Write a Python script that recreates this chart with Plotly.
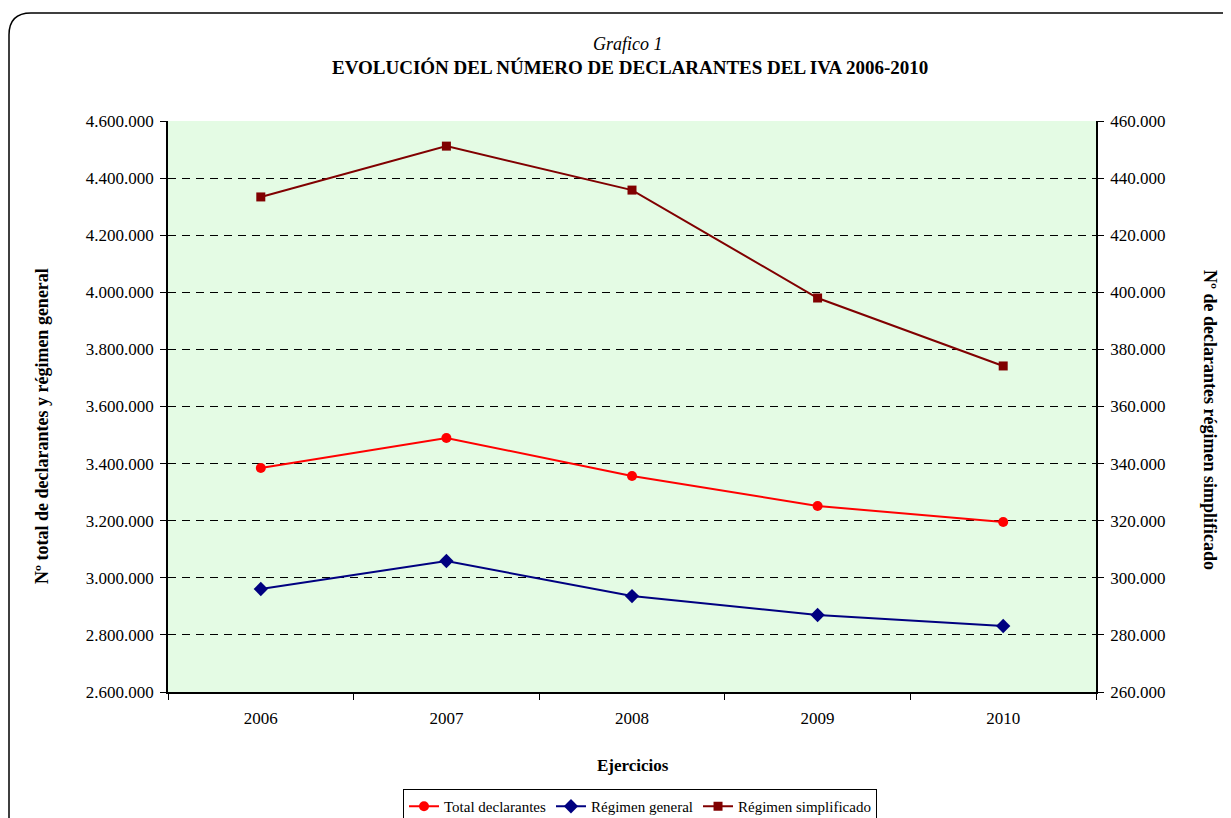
import plotly.graph_objects as go

years = ["2006", "2007", "2008", "2009", "2010"]
total_declarantes = [3384600, 3489700, 3356600, 3251500, 3195400]
regimen_general = [2960800, 3058800, 2936000, 2869700, 2831200]
regimen_simplificado = [433400, 451200, 435800, 398000, 374200]

OFF = 8  # default page body margin
W, H = 1231 - OFF, 818 - OFF
# plot area in screen pixels
SL, SR, ST, SB = 168, 1096, 121, 692
L, R, T, B = SL - OFF, SR - OFF, ST - OFF, SB - OFF


def px(x):  # screen x -> paper
    return (x - SL) / (SR - SL)


def py(y):  # screen y -> paper
    return (SB - y) / (SB - ST)


FONT = "Liberation Serif"

fig = go.Figure()
fig.add_trace(go.Scatter(
    x=years, y=total_declarantes, name="Total declarantes", mode="lines+markers",
    line=dict(color="#FF0000", width=2),
    marker=dict(symbol="circle", size=10, color="#FF0000"),
))
fig.add_trace(go.Scatter(
    x=years, y=regimen_general, name="Régimen general", mode="lines+markers",
    line=dict(color="#000080", width=2),
    marker=dict(symbol="diamond", size=11, color="#000080"),
))
fig.add_trace(go.Scatter(
    x=years, y=regimen_simplificado, name="Régimen simplificado", mode="lines+markers",
    line=dict(color="#800000", width=2),
    marker=dict(symbol="square", size=9, color="#800000"),
    yaxis="y2",
))

# rounded outer frame
x0, x1 = px(9), px(1250)
y0, y1 = py(13), py(840)
rx, ry = 22 / (SR - SL), 22 / (SB - ST)
path = (f"M {x0},{y1} L {x0},{y0 - ry} Q {x0},{y0} {x0 + rx},{y0} "
        f"L {x1 - rx},{y0} Q {x1},{y0} {x1},{y0 - ry} L {x1},{y1}")

tickfont = dict(family=FONT, size=17, color="#000000")

fig.update_layout(
    width=W, height=H,
    margin=dict(l=L, r=W - R, t=T, b=H - B, autoexpand=False),
    paper_bgcolor="white",
    plot_bgcolor="#e4fbe4",
    separators=",.",
    font=dict(family=FONT, size=15, color="#000000"),
    showlegend=True,
    legend=dict(
        orientation="h", x=px(640), xanchor="center", y=py(789), yanchor="top",
        bordercolor="#000000", borderwidth=1, bgcolor="white",
        font=dict(family=FONT, size=15), tracegroupgap=0,
    ),
    xaxis=dict(
        type="category", range=[-0.5, 4.5], tickson="boundaries",
        ticks="outside", ticklen=6, tickcolor="#000000",
        showline=True, linecolor="#000000", linewidth=1.5,
        showgrid=False, ticklabelstandoff=10,
        tickfont=tickfont,
    ),
    yaxis=dict(
        range=[2600000, 4600000], dtick=200000, tickformat=",d",
        ticks="outside", ticklen=6, tickcolor="#000000",
        showline=True, linecolor="#000000", linewidth=1.5,
        showgrid=True, gridcolor="#000000", griddash="8px,6px", gridwidth=1,
        zeroline=False, ticklabelstandoff=3,
        tickfont=tickfont,
    ),
    yaxis2=dict(
        range=[260000, 460000], dtick=20000, tickformat=",d",
        overlaying="y", side="right",
        ticks="outside", ticklen=6, tickcolor="#000000",
        showline=True, linecolor="#000000", linewidth=1.5,
        showgrid=False, zeroline=False, ticklabelstandoff=3,
        tickfont=tickfont,
    ),
    shapes=[dict(type="path", xref="paper", yref="paper", path=path,
                 line=dict(color="#000000", width=1.5))],
    annotations=[
        dict(text="<i>Grafico 1</i>", x=px(628), y=py(32), xref="paper", yref="paper",
             showarrow=False, font=dict(family=FONT, size=18)),
        dict(text="<b>EVOLUCIÓN DEL NÚMERO DE DECLARANTES DEL IVA 2006-2010</b>",
             x=px(630), y=py(55), xref="paper", yref="paper",
             showarrow=False, font=dict(family=FONT, size=19)),
        dict(text="<b>Ejercicios</b>", x=px(633), y=py(777), xref="paper", yref="paper",
             showarrow=False, font=dict(family=FONT, size=17)),
        dict(text="<b>Nº total de declarantes y régimen general</b>", textangle=-90,
             x=px(30), y=py(426), xref="paper", yref="paper",
             showarrow=False, font=dict(family=FONT, size=18)),
        dict(text="<b>Nº de declarantes régimen simplificado</b>", textangle=90,
             x=px(1222), y=py(420), xref="paper", yref="paper",
             showarrow=False, font=dict(family=FONT, size=18)),
    ],
)

fig.write_html("out.html")
